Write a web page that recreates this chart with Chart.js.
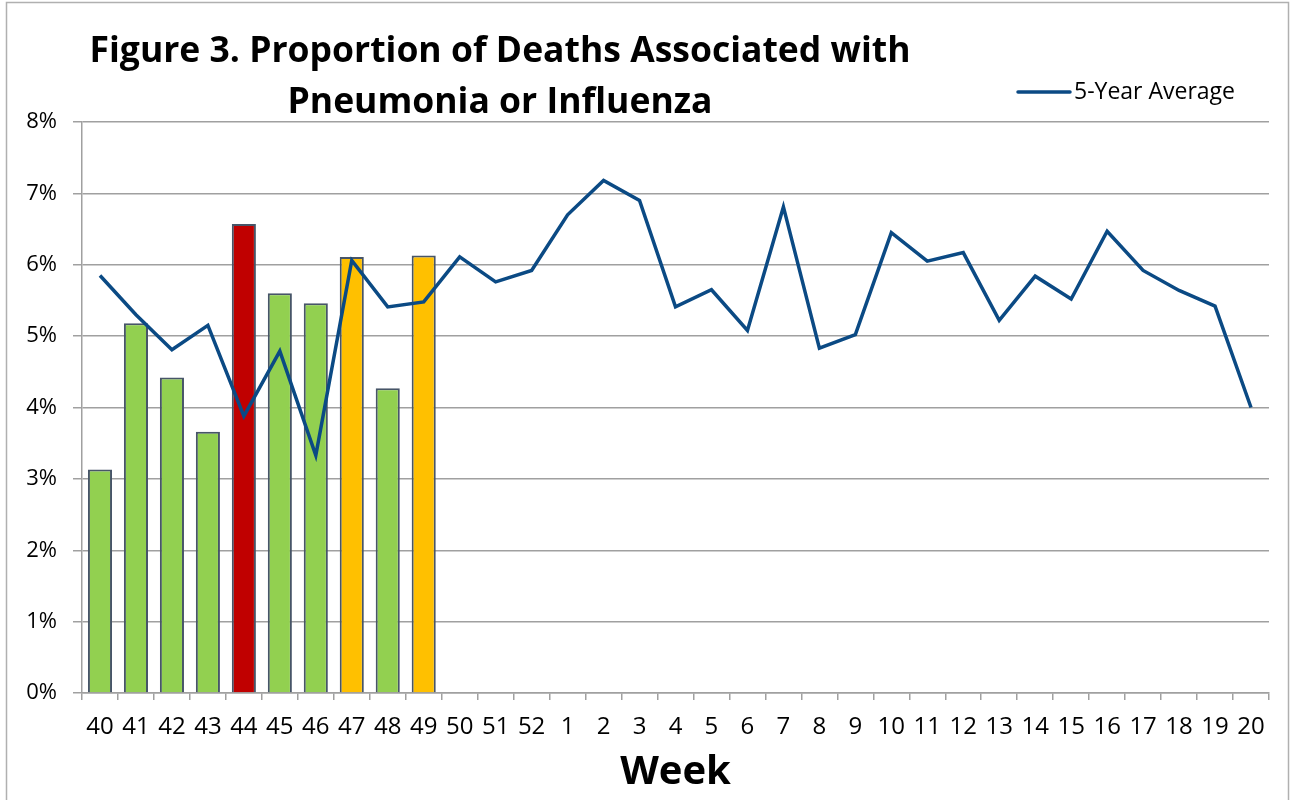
<!DOCTYPE html>
<html lang="en">
<head>
<meta charset="UTF-8">
<title>Figure 3</title>
<style>
    body {
        margin: 0;
        background: #fff;
    }
    .wrap {
        width: 1292px;
        height: 800px;
    }
</style>
<script src="https://cdn.jsdelivr.net/npm/chart.js"></script>
</head>
<body>
<div class="wrap">
    <canvas id="chart" width="1292" height="800"></canvas>
</div>
<script>
// weeks of the flu season
const weeks = ['40', '41', '42', '43', '44', '45', '46', '47', '48', '49', '50', '51', '52',
    '1', '2', '3', '4', '5', '6', '7', '8', '9', '10', '11', '12', '13', '14', '15', '16', '17', '18', '19', '20'];

// current season, % of deaths from P&I (only reported up to week 49)
const currentSeason = [3.13, 5.18, 4.42, 3.66, 6.57, 5.60, 5.46, 6.11, 4.27, 6.13];

// level of each reported week
const weekLevel = ['normal', 'normal', 'normal', 'normal', 'high', 'normal', 'normal', 'elevated', 'normal', 'elevated'];

// 5-year average
const fiveYearAvg = [5.85, 5.30, 4.81, 5.15, 3.88, 4.79, 3.33, 6.06, 5.41, 5.48,
    6.11, 5.76, 5.92, 6.70, 7.18, 6.90, 5.41, 5.65, 5.08, 6.81, 4.83, 5.02,
    6.45, 6.05, 6.17, 5.22, 5.84, 5.52, 6.47, 5.92, 5.64, 5.42, 4.00];

const levelColors = { normal: '#92d050', elevated: '#ffc000', high: '#c00000' };
const gridGray = '#a0a0a0';
const FONT = '"Open Sans", sans-serif';

// title, legend and frame drawn by hand
const decorations = {
    id: 'decorations',
    beforeDraw(chart) {
        const ctx = chart.ctx;
        ctx.save();
        ctx.strokeStyle = '#b0b0b0';
        ctx.lineWidth = 1.5;
        ctx.strokeRect(6.5, 2.5, 1282, 900);
        ctx.restore();
    },
    afterDraw(chart) {
        const ctx = chart.ctx;
        ctx.save();
        // title
        const line1 = 'Figure 3. Proportion of Deaths Associated with';
        const line2 = 'Pneumonia or Influenza';
        ctx.font = 'bold 32px ' + FONT;
        let size = 32 * 820 / ctx.measureText(line1).width;
        ctx.font = 'bold ' + size.toFixed(1) + 'px ' + FONT;
        ctx.fillStyle = '#000';
        ctx.textAlign = 'center';
        ctx.textBaseline = 'alphabetic';
        ctx.fillText(line1, 500, 62);
        ctx.fillText(line2, 500, 113);

        // legend for the line
        const ds = chart.data.datasets[0];
        ctx.strokeStyle = ds.borderColor;
        ctx.lineWidth = 3.5;
        ctx.lineCap = 'round';
        ctx.beginPath();
        ctx.moveTo(1018, 92);
        ctx.lineTo(1070, 92);
        ctx.stroke();
        ctx.font = '23px ' + FONT;
        ctx.textAlign = 'left';
        ctx.textBaseline = 'middle';
        ctx.fillText(ds.label, 1074, 92);
        ctx.restore();
    }
};

const ctx = document.getElementById('chart').getContext('2d');
const chart = new Chart(ctx, {
    data: {
        labels: weeks,
        datasets: [{
            type: 'line',
            label: '5-Year Average',
            data: fiveYearAvg,
            borderColor: '#0b4a84',
            borderWidth: 3.5,
            pointRadius: 0,
            tension: 0,
            order: 0
        }, {
            type: 'bar',
            label: 'Current Season',
            data: currentSeason,
            backgroundColor: weekLevel.map(l => levelColors[l]),
            borderColor: '#475568',
            borderWidth: 2,
            categoryPercentage: 1,
            barPercentage: 0.67,
            order: 1
        }]
    },
    options: {
        responsive: false,
        animation: false,
        layout: {
            padding: { top: 122, right: 23, left: 0, bottom: 0 }
        },
        plugins: {
            legend: { display: false },
            title: { display: false },
            tooltip: { enabled: false }
        },
        scales: {
            x: {
                afterFit: (s) => { s.height = 107; },
                grid: {
                    offset: true,
                    drawOnChartArea: false,
                    tickLength: 7,
                    color: gridGray,
                    lineWidth: 1.5
                },
                border: { color: gridGray, width: 1.5 },
                ticks: {
                    color: '#000',
                    font: { family: FONT, size: 24 },
                    padding: 13,
                    maxRotation: 0,
                    autoSkip: false
                },
                title: {
                    display: true,
                    text: 'Week',
                    color: '#000',
                    font: { family: FONT, size: 40, weight: 'bold' },
                    padding: { top: 0, bottom: 3 }
                }
            },
            y: {
                min: 0,
                max: 8,
                afterFit: (s) => { s.width = 82; },
                grid: {
                    color: gridGray,
                    lineWidth: 1.5,
                    tickLength: 9
                },
                border: { color: gridGray, width: 1.5 },
                ticks: {
                    stepSize: 1,
                    color: '#000',
                    font: { family: FONT, size: 22 },
                    padding: 16,
                    callback: (v) => v + '%'
                }
            }
        }
    },
    plugins: [decorations]
});
</script>
</body>
</html>
